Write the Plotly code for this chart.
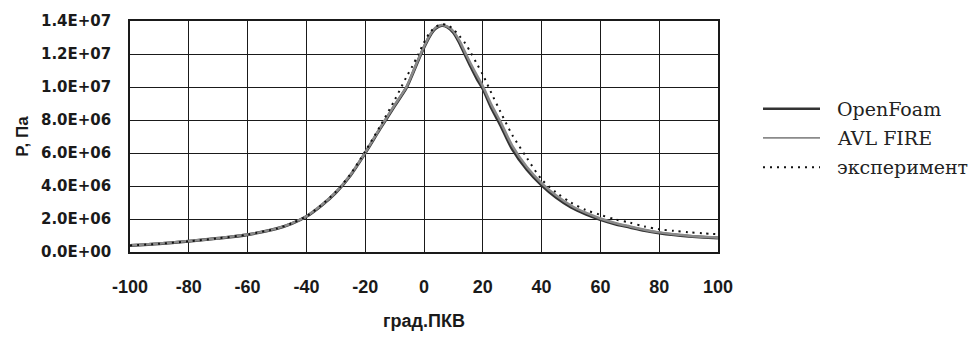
import plotly.graph_objects as go

# crank angle (degrees) and pressure (Pa)
angle_sim = [-100, -90, -80, -70, -60, -50, -45, -40, -35, -30, -25, -20, -15, -10, -6, -4, -2, 0,
             2, 4, 6, 8, 10, 12, 14, 16, 18, 20, 23, 26, 30, 35, 40, 45, 50, 55, 60, 65, 70, 75,
             80, 85, 90, 95, 100]
p_openfoam = [0.40e6, 0.50e6, 0.65e6, 0.83e6, 1.05e6, 1.42e6, 1.72e6, 2.15e6, 2.8e6, 3.6e6, 4.65e6,
              6.0e6, 7.45e6, 8.85e6, 9.95e6, 10.75e6, 11.6e6, 12.4e6, 13.1e6, 13.55e6, 13.72e6,
              13.62e6, 13.3e6, 12.7e6, 11.95e6, 11.2e6, 10.5e6, 9.9e6, 8.7e6, 7.7e6, 6.25e6,
              5.0e6, 4.05e6, 3.3e6, 2.72e6, 2.3e6, 1.97e6, 1.7e6, 1.5e6, 1.3e6, 1.15e6, 1.04e6,
              0.96e6, 0.9e6, 0.85e6]
p_avl = [0.41e6, 0.51e6, 0.66e6, 0.84e6, 1.06e6, 1.43e6, 1.74e6, 2.17e6, 2.83e6, 3.63e6, 4.68e6,
         6.03e6, 7.5e6, 8.9e6, 10.0e6, 10.8e6, 11.65e6, 12.45e6, 13.15e6, 13.6e6, 13.76e6,
         13.66e6, 13.38e6, 12.82e6, 12.1e6, 11.38e6, 10.7e6, 10.05e6, 8.9e6, 7.9e6, 6.45e6,
         5.15e6, 4.18e6, 3.42e6, 2.82e6, 2.38e6, 2.03e6, 1.76e6, 1.55e6, 1.35e6, 1.19e6, 1.07e6,
         0.99e6, 0.92e6, 0.87e6]

angle_exp = [-100, -90, -80, -70, -60, -50, -45, -40, -35, -30, -25, -20, -15, -10, -6, -4, -2, 0,
             2, 4, 6, 8, 10, 12, 14, 16, 18, 20, 23, 26, 30, 35, 40, 45, 50, 55, 60, 65, 70, 75,
             80, 85, 90, 95, 100]
p_exp = [0.40e6, 0.50e6, 0.65e6, 0.83e6, 1.06e6, 1.43e6, 1.74e6, 2.17e6, 2.83e6, 3.65e6, 4.72e6,
         6.1e6, 7.6e6, 9.2e6, 10.6e6, 11.25e6, 11.95e6, 12.7e6, 13.3e6, 13.65e6, 13.8e6, 13.75e6,
         13.5e6, 13.1e6, 12.65e6, 12.05e6, 11.4e6, 10.75e6, 9.6e6, 8.5e6, 7.1e6, 5.7e6, 4.4e6,
         3.6e6, 3.0e6, 2.55e6, 2.25e6, 1.98e6, 1.78e6, 1.55e6, 1.38e6, 1.28e6, 1.2e6, 1.13e6,
         1.08e6]

x_ticks = [-100, -80, -60, -40, -20, 0, 20, 40, 60, 80, 100]
x_ticktext = ["-100", "-80", "-60", "-40", "-20", "0", "20", "40", "60", "80", "100"]
y_ticks = [0, 2e6, 4e6, 6e6, 8e6, 10e6, 12e6, 14e6]
y_ticktext = ["0.0E+00", "2.0E+06", "4.0E+06", "6.0E+06", "8.0E+06", "1.0E+07", "1.2E+07", "1.4E+07"]

series_names = ["OpenFoam", "AVL FIRE", "эксперимент"]
series_colors = ["#333333", "#8a8a8a", "#111111"]
series_widths = [3, 2.5, 2]
series_dash = ["solid", "solid", "2px,5px"]
series_x = [angle_sim, angle_sim, angle_exp]
series_y = [p_openfoam, p_avl, p_exp]

fig = go.Figure()
for name, xs, ys, c, w, d in zip(series_names, series_x, series_y, series_colors, series_widths, series_dash):
    fig.add_trace(go.Scatter(x=xs, y=ys, mode="lines", name=name, showlegend=False,
                             line=dict(color=c, width=w, dash=d, shape="spline", smoothing=0.8)))

# manual legend placed to the right of the plot (paper coordinates)
L, R, T, B = 130, 718, 17, 262
def px_x(p):
    return (p - L) / (R - L)
def px_y(p):
    return (B - p) / (B - T)

legend_rows = [110, 141, 172]
legend_widths = [2.5, 1.8, 2]
for name, c, w, d, row in zip(series_names, series_colors, legend_widths, series_dash, legend_rows):
    fig.add_shape(type="line", xref="paper", yref="paper",
                  x0=px_x(763), x1=px_x(820), y0=px_y(row), y1=px_y(row),
                  line=dict(color=c, width=w, dash=d))
    fig.add_annotation(text=name, xref="paper", yref="paper", x=px_x(835), y=px_y(row),
                       xanchor="left", yanchor="middle", showarrow=False,
                       font=dict(family="DejaVu Serif, serif", size=19, color="#222222"))

tick_font = dict(family="Liberation Sans Narrow, Liberation Sans, Arial", size=18, color="#1a1a1a", weight="bold")

fig.update_layout(
    width=970, height=340,
    margin=dict(l=L, r=970 - R, t=T, b=340 - B),
    paper_bgcolor="white", plot_bgcolor="white",
    showlegend=False,
    xaxis=dict(range=[-100, 100], tickvals=x_ticks, ticktext=x_ticktext,
               showgrid=True, gridcolor="#1a1a1a", gridwidth=1.3,
               showline=True, linecolor="#1a1a1a", linewidth=1.5, mirror=True,
               zeroline=False, ticks="", ticklabelstandoff=18, tickfont=tick_font,
               title=dict(text="град.ПКВ", standoff=18,
                          font=dict(family="Liberation Sans Narrow, Liberation Sans, Arial", size=18,
                                    color="#1a1a1a", weight="bold"))),
    yaxis=dict(range=[0, 1.4e7], tickvals=y_ticks, ticktext=y_ticktext,
               showgrid=True, gridcolor="#1a1a1a", gridwidth=1.3,
               showline=True, linecolor="#1a1a1a", linewidth=1.5, mirror=True,
               zeroline=False, ticks="", ticklabelstandoff=14,
               tickfont=dict(family="DejaVu Sans, Liberation Sans", size=15, color="#1a1a1a", weight="bold"),
               title=dict(text="P, Па", standoff=8,
                          font=dict(family="Liberation Sans, Arial", size=17, color="#1a1a1a", weight="bold"))),
)

fig.write_html("out.html")
